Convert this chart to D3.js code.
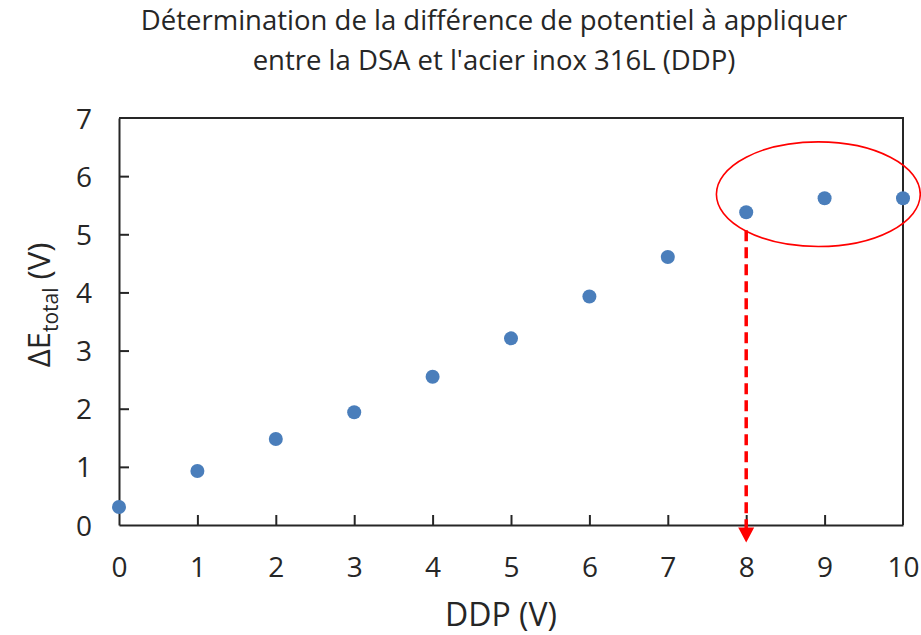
<!DOCTYPE html>
<html>
<head>
<meta charset="utf-8">
<script src="https://cdn.jsdelivr.net/npm/d3@7"></script>
<style>
  html, body { margin: 0; padding: 0; background: #fff; }
  svg { display: block; font-family: "Open Sans", "Noto Sans", sans-serif; }
</style>
</head>
<body>
<svg id="chart" width="921" height="635"></svg>
<script>
// Measured points: applied potential difference vs. total potential drop
const ddp = [0, 1, 2, 3, 4, 5, 6, 7, 8, 9, 10];
const deltaE = [0.31, 0.93, 1.48, 1.94, 2.55, 3.21, 3.93, 4.61, 5.38, 5.62, 5.62];
const xTicks = [0, 1, 2, 3, 4, 5, 6, 7, 8, 9, 10];
const yTicks = [0, 1, 2, 3, 4, 5, 6, 7];
const titleLines = ["Détermination de la différence de potentiel à appliquer",
                    "entre la DSA et l'acier inox 316L (DDP)"];

// Highlight of the plateau and the chosen operating point (data units)
const plateau = { cx: 8.92, cy: 5.69, rx: 1.3, ry: 0.9 };
const chosen = { x: 8, yFrom: 5.07, yTo: -0.30 };

const svg = d3.select("#chart");
const plotLeft = 119, plotRight = 903, plotTop = 118, plotBottom = 525;

const x = d3.scaleLinear().domain([0, 10]).range([plotLeft, plotRight]);
const y = d3.scaleLinear().domain([0, 7]).range([plotBottom, plotTop]);

const axisColor = "#262626";
const textColor = "#262626";

// Plot frame (top and right edges)
svg.append("path")
  .attr("d", `M${plotLeft},${plotTop}H${plotRight}V${plotBottom}`)
  .attr("fill", "none").attr("stroke", axisColor).attr("stroke-width", 2);

// Axes with inward ticks
const xAxis = svg.append("g")
  .attr("transform", `translate(0,${plotBottom})`)
  .call(d3.axisBottom(x).tickValues(xTicks).tickFormat(d3.format("d"))
    .tickSize(-10).tickSizeOuter(0).tickPadding(32));
const yAxis = svg.append("g")
  .attr("transform", `translate(${plotLeft},0)`)
  .call(d3.axisLeft(y).tickValues(yTicks).tickFormat(d3.format("d"))
    .tickSize(-10).tickSizeOuter(0).tickPadding(27));

[xAxis, yAxis].forEach(g => {
  g.select(".domain").attr("stroke", axisColor).attr("stroke-width", 2);
  g.selectAll(".tick line").attr("stroke", axisColor).attr("stroke-width", 2);
  g.selectAll(".tick text").attr("fill", textColor)
    .style("font-family", "'Open Sans', sans-serif").style("font-size", "28px");
});
// No tick marks on the frame corners
xAxis.selectAll(".tick line").filter(d => d === 0 || d === 10).remove();
yAxis.selectAll(".tick line").filter(d => d === 0 || d === 7).remove();
yAxis.selectAll(".tick text").attr("dy", "0.36em");
xAxis.selectAll(".tick text").attr("dy", "0.71em");

// Data points
svg.append("g").selectAll("circle")
  .data(ddp.map((d, i) => [d, deltaE[i]]))
  .join("circle")
  .attr("cx", d => x(d[0]))
  .attr("cy", d => y(d[1]))
  .attr("r", 7)
  .attr("fill", "#4a7ebb");

// Plateau ellipse
svg.append("ellipse")
  .attr("cx", x(plateau.cx)).attr("cy", y(plateau.cy))
  .attr("rx", x(plateau.rx) - x(0)).attr("ry", y(0) - y(plateau.ry))
  .attr("fill", "none").attr("stroke", "#ff0000").attr("stroke-width", 1.6);

// Dashed arrow down to the chosen DDP
const ax = x(chosen.x), ay0 = y(chosen.yFrom), ay1 = y(chosen.yTo);
svg.append("line")
  .attr("x1", ax).attr("x2", ax).attr("y1", ay0).attr("y2", ay1 - 12)
  .attr("stroke", "#ff0000").attr("stroke-width", 3.5).attr("stroke-dasharray", "11,6");
svg.append("path")
  .attr("d", `M${ax - 8},${ay1 - 15}L${ax + 8},${ay1 - 15}L${ax},${ay1}Z`)
  .attr("fill", "#ff0000");

// Title
svg.append("text")
  .attr("text-anchor", "middle").attr("fill", textColor)
  .style("font-size", "27.5px")
  .selectAll("tspan").data(titleLines).join("tspan")
  .attr("x", 494).attr("y", (d, i) => 30 + i * 40)
  .text(d => d);

// Axis titles
svg.append("text")
  .attr("x", 501).attr("y", 626)
  .attr("text-anchor", "middle").attr("fill", textColor)
  .style("font-size", "32px")
  .text("DDP (V)");

const yt = svg.append("text")
  .attr("transform", "translate(50,305) rotate(-90)")
  .attr("text-anchor", "middle").attr("fill", textColor)
  .style("font-size", "31px");
yt.append("tspan").text("ΔE");
yt.append("tspan").attr("dy", 8).style("font-size", "21px").text("total");
yt.append("tspan").attr("dy", -8).text(" (V)");
</script>
</body>
</html>
